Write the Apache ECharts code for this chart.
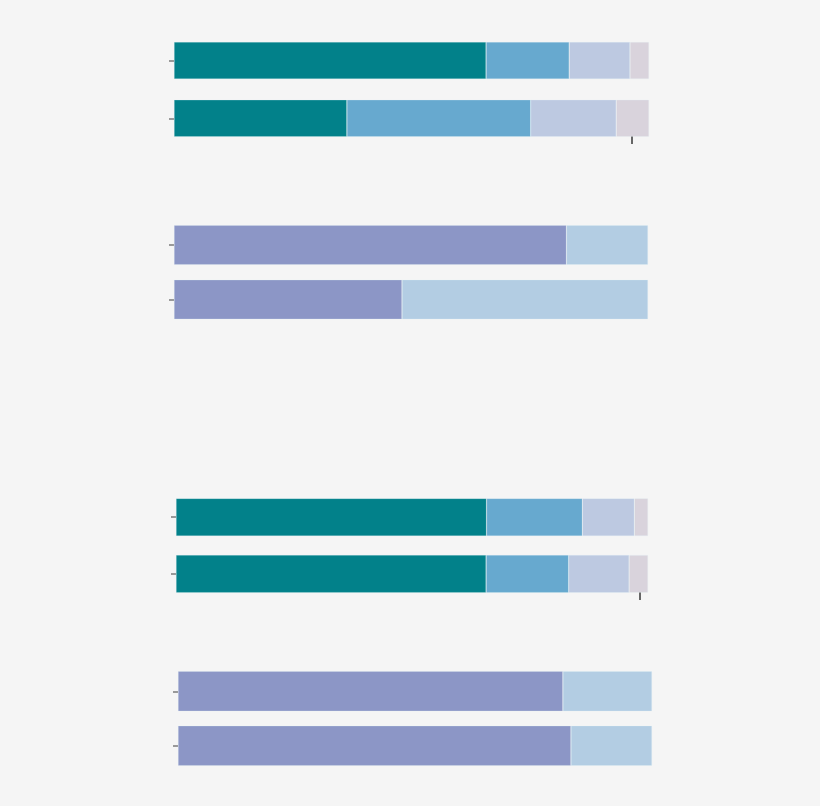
<!DOCTYPE html>
<html>
<head>
<meta charset="utf-8">
<script src="https://cdn.jsdelivr.net/npm/echarts@6/dist/echarts.min.js"></script>
<style>
html,body{margin:0;padding:0;background:#f5f5f5;}
#chart{width:820px;height:806px;}
</style>
</head>
<body>
<div id="chart"></div>
<script>
// Data
const categories = ['Row 1', 'Row 2'];
const g1Seg1 = [65.7, 36.4];
const g1Seg2 = [17.5, 38.7];
const g1Seg3 = [12.8, 18.0];
const g1Seg4 = [4.0, 6.9];
const g2Seg1 = [82.8, 48.1];
const g2Seg2 = [17.2, 51.9];
const g3Seg1 = [65.8, 65.7];
const g3Seg2 = [20.3, 17.5];
const g3Seg3 = [11.0, 12.8];
const g3Seg4 = [2.9, 4.0];
const g4Seg1 = [81.2, 82.9];
const g4Seg2 = [18.8, 17.1];
const g1TickValues = [96.3];
const g3TickValues = [98.3];

const fourColors = ['#02818a', '#67a9cf', '#bdc9e1', '#d9d3dc'];
const twoColors = ['#8c96c6', '#b3cde3'];

const grids = [
  {left: 174, right: 171, top: 31.6, height: 115.6},
  {left: 174, right: 172, top: 217.75, height: 109},
  {left: 176, right: 172, top: 488.85, height: 113.4},
  {left: 178, right: 168, top: 664, height: 109}
];
const barWidths = [37, 39.5, 37.7, 40];
const xTicks = [g1TickValues, null, g3TickValues, null];
const xOffsets = [-11.2, 0, -10.25, 0];

const groups = [
  [g1Seg1, g1Seg2, g1Seg3, g1Seg4],
  [g2Seg1, g2Seg2],
  [g3Seg1, g3Seg2, g3Seg3, g3Seg4],
  [g4Seg1, g4Seg2]
];

const xAxes = grids.map((g, i) => ({
  type: 'value', gridIndex: i, min: 0, max: 100,
  offset: xOffsets[i],
  splitLine: {show: false},
  axisLine: {show: false},
  axisLabel: {show: false},
  axisTick: xTicks[i] ? {show: true, customValues: xTicks[i], length: 8, lineStyle: {color: '#666', width: 2}} : {show: false}
}));
const yAxes = grids.map((g, i) => ({
  type: 'category', gridIndex: i, data: categories, inverse: true,
  axisLine: {show: false},
  axisLabel: {show: false},
  axisTick: {show: true, length: 5, alignWithLabel: true, lineStyle: {color: '#999', width: 2}},
  splitLine: {show: false}
}));

const series = [];
groups.forEach((segs, gi) => {
  const colors = segs.length === 4 ? fourColors : twoColors;
  segs.forEach((data, si) => {
    series.push({
      type: 'bar', stack: 'g' + gi, xAxisIndex: gi, yAxisIndex: gi,
      data: data, barWidth: barWidths[gi], silent: true,
      itemStyle: {color: colors[si], borderColor: 'rgba(225,245,250,0.35)', borderWidth: 0.6}
    });
  });
});

const chart = echarts.init(document.getElementById('chart'));
chart.setOption({
  backgroundColor: '#f5f5f5',
  animation: false,
  grid: grids,
  xAxis: xAxes,
  yAxis: yAxes,
  series: series
});
</script>
</body>
</html>
